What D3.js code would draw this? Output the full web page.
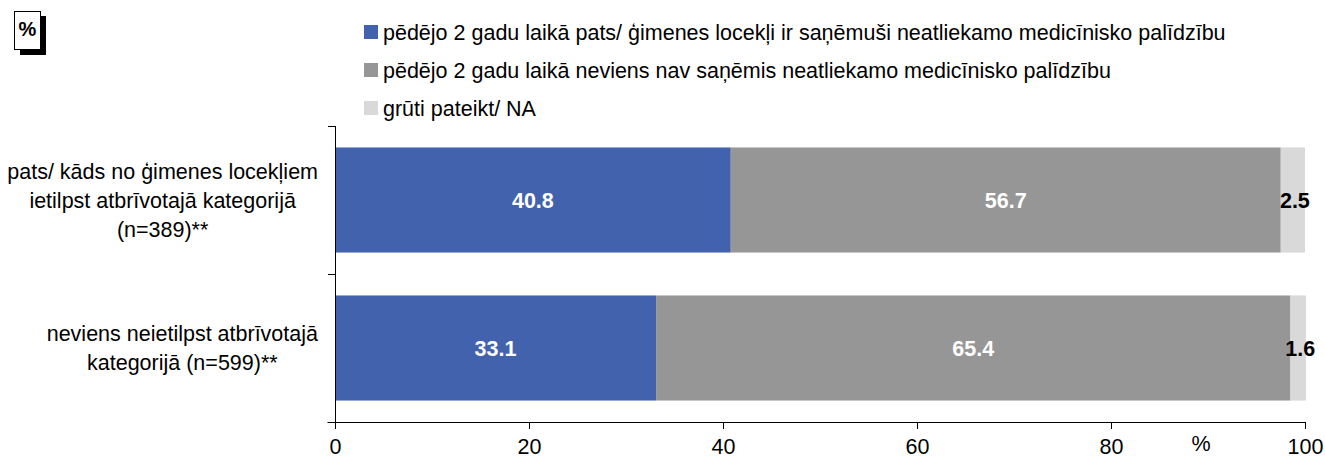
<!DOCTYPE html>
<html><head><meta charset="utf-8">
<script src="https://cdn.jsdelivr.net/npm/d3@7/dist/d3.min.js"></script>
<style>body{margin:0;background:#fff;} text{font-family:"Liberation Sans",Arial,sans-serif;}</style>
</head><body><svg id="c" width="1325" height="459"></svg>
<script>
const categories = [
  ["pats/ kāds no ģimenes locekļiem", "ietilpst atbrīvotajā kategorijā", "(n=389)**"],
  ["neviens neietilpst atbrīvotajā", "kategorijā (n=599)**"]
];
const seriesNames = [
  "pēdējo 2 gadu laikā pats/ ģimenes locekļi ir saņēmuši neatliekamo medicīnisko palīdzību",
  "pēdējo 2 gadu laikā neviens nav saņēmis neatliekamo medicīnisko palīdzību",
  "grūti pateikt/ NA"
];
const received = [40.8, 33.1];
const notReceived = [56.7, 65.4];
const hardToSay = [2.5, 1.6];
const xTicks = [0, 20, 40, 60, 80, 100];
const colors = ["#4262AE", "#969696", "#D9D9D9"];
const labelColors = ["#fff", "#fff", "#000"];
const FS = 21.5;

const svg = d3.select("#c");
const x = d3.scaleLinear().domain([0, 100]).range([335, 1305]);
const y = d3.scaleBand().domain(d3.range(categories.length)).range([126, 422]).paddingInner(0.29).paddingOuter(0.145);

const series = [received, notReceived, hardToSay];
const stacked = categories.map((c, i) => {
  let acc = 0;
  return series.map((s, k) => { const d = {i, k, x0: acc, x1: acc + s[i], v: s[i]}; acc += s[i]; return d; });
});

const g = svg.append("g");
stacked.forEach(row => {
  row.forEach(d => {
    g.append("rect").attr("x", x(d.x0)).attr("width", x(d.x1) - x(d.x0))
      .attr("y", y(d.i)).attr("height", y.bandwidth()).attr("fill", colors[d.k]);
    g.append("text").attr("x", (x(d.x0) + x(d.x1)) / 2 + (d.k === 2 ? 2 : 0))
      .attr("y", y(d.i) + y.bandwidth() / 2).attr("dy", "0.35em")
      .attr("text-anchor", "middle").attr("font-size", FS).attr("font-weight", "bold")
      .attr("fill", labelColors[d.k]).text(d.v.toFixed(1));
  });
});

// x axis
const xAxis = svg.append("g").attr("transform", "translate(0,422)")
  .call(d3.axisBottom(x).tickValues(xTicks).tickSize(7).tickPadding(10).tickFormat(d3.format("d")));
xAxis.select(".domain").attr("d", "M327.5,0.5H1305.5V7");
xAxis.selectAll("line").attr("stroke", "#000");
xAxis.selectAll("text").attr("font-size", FS).attr("fill", "#000").attr("font-family", "Liberation Sans, Arial, sans-serif");

// y axis line and ticks
const yl = svg.append("g");
yl.append("line").attr("x1", 335.5).attr("x2", 335.5).attr("y1", 126).attr("y2", 429).attr("stroke", "#000");
[126, 274, 422].forEach(t => {
  yl.append("line").attr("x1", 328).attr("x2", 335.5).attr("y1", t + 0.5).attr("y2", t + 0.5).attr("stroke", "#000");
});

// category labels (centred lines in a block right-aligned near the axis)
categories.forEach((lines, i) => {
  const cy = y(i) + y.bandwidth() / 2;
  const lh = 29;
  const t = svg.append("text").attr("text-anchor", "middle").attr("font-size", FS).attr("fill", "#000");
  const spans = lines.map((ln, j) => t.append("tspan").attr("y", cy + (j - (lines.length - 1) / 2) * lh).attr("dy", "0.35em").text(ln));
  const maxW = d3.max(spans, s => s.node().getComputedTextLength());
  spans.forEach(s => s.attr("x", 318 - maxW / 2));
});

// legend
seriesNames.forEach((n, k) => {
  const ly = 32 + k * 38;
  svg.append("rect").attr("x", 364).attr("y", ly - 7).attr("width", 14).attr("height", 14).attr("fill", colors[k]);
  svg.append("text").attr("x", 383).attr("y", ly).attr("dy", "0.35em").attr("font-size", FS).attr("fill", "#000").text(n);
});

// % box top-left
svg.append("rect").attr("x", 20).attr("y", 16).attr("width", 26).attr("height", 39).attr("fill", "#000");
svg.append("rect").attr("x", 14.5).attr("y", 11.5).attr("width", 26).attr("height", 38).attr("fill", "#fff").attr("stroke", "#000");
svg.append("text").attr("x", 27.5).attr("y", 28.5).attr("dy", "0.35em").attr("text-anchor", "middle")
  .attr("font-size", 20).attr("font-weight", "bold").attr("fill", "#000").text("%");

// % axis unit label
svg.append("text").attr("x", 1201).attr("y", 443).attr("dy", "0.35em").attr("text-anchor", "middle")
  .attr("font-size", FS).attr("fill", "#000").text("%");
</script></body></html>
